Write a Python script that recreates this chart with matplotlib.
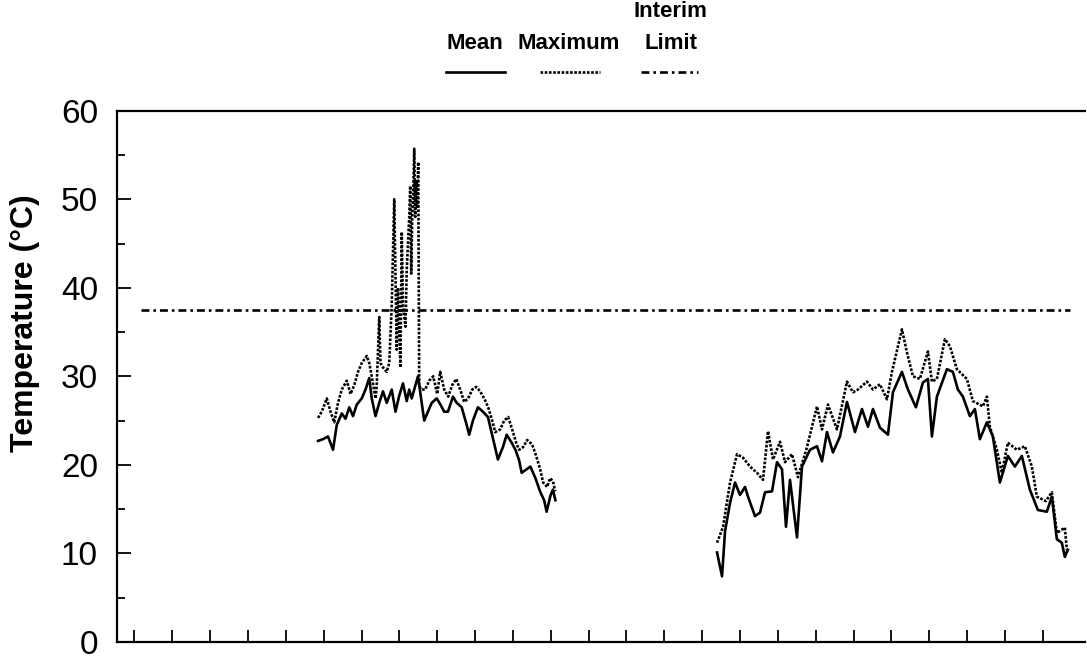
import numpy as np
import matplotlib.pyplot as plt
from matplotlib.lines import Line2D

plt.rcParams['font.family'] = ['Liberation Sans', 'DejaVu Sans']

# days since start of record (ticks mark months)
month_ticks = np.arange(25) * 30.3

# first season
s1_mean_days = [147, 151, 155, 159, 162, 166, 169, 172, 175, 178, 182, 185, 188, 190,
                193, 196, 199, 202, 206, 209, 212, 215, 218, 220, 222, 225, 227,
                230, 232, 235, 238, 242, 245, 248, 251, 255, 258, 262, 266, 268,
                271, 275, 279, 283, 287, 291, 295, 298, 302, 305, 308, 310, 314,
                317, 321, 325, 328, 330, 333, 335, 337]
s1_mean = [22.7, 22.9, 23.2, 21.7, 24.5, 25.8, 25.2, 26.5, 25.5, 26.8, 27.5, 28.5, 29.8, 27.5,
           25.5, 27.0, 28.3, 27.0, 28.5, 26.0, 27.8, 29.2, 27.2, 28.5, 27.5, 29.0, 30.0,
           27.0, 25.0, 26.0, 27.0, 27.5, 26.8, 26.0, 26.0, 27.7, 27.0, 26.5, 24.5, 23.4,
           25.0, 26.5, 26.0, 25.4, 23.0, 20.6, 22.0, 23.4, 22.5, 21.7, 20.5, 19.1, 19.5,
           19.8, 18.5, 16.9, 16.0, 14.7, 16.5, 17.2, 16.0]

s1_max_days = [147, 150, 154, 157, 160, 163, 166, 170, 173, 176, 179, 182, 186, 188, 190,
               193, 194, 196, 197, 199, 202, 204, 206, 208, 210, 211, 213, 214, 215,
               217, 218, 220.0, 220.8, 221.6, 222.4, 223.2, 224.0, 224.8, 225.6, 226.4,
               227.2, 228.0, 229.6, 232.8, 236.0, 239.2, 242.4, 244.8, 248.0, 251.2,
               254.4, 257.6, 260.8, 264.0, 267.2, 270.4, 273.6, 276.8, 280.0, 283.2,
               286.4, 288.8, 292.8, 296.0, 299.2, 302.4, 305.6, 308.0, 311.2, 314.4,
               318.4, 321.6, 324.8, 327.2, 330.4, 332.8, 335.2, 336.8]
s1_max = [25.3, 26.0, 27.5, 26.0, 24.8, 27.0, 28.5, 29.5, 28.0, 29.0, 30.5, 31.5, 32.3, 31.5, 30.0,
          27.5, 29.0, 36.7, 31.5, 31.0, 30.5, 31.5, 38.0, 50.0, 33.0, 40.0, 31.0, 46.3, 38.0,
          35.6, 42.0, 48.0, 51.5, 41.6, 48.0, 50.5, 55.7, 48.0, 52.0, 49.0,
          54.2, 28.9, 28.5, 28.5, 29.5, 30.0, 28.0, 30.5, 28.5, 27.7,
          29.0, 29.7, 28.5, 27.1, 27.5, 28.5, 28.8, 28.3, 27.5, 26.5,
          25.0, 23.7, 24.0, 25.0, 25.4, 24.0, 22.5, 21.7, 22.0, 22.8,
          22.3, 21.0, 19.5, 18.0, 17.5, 18.5, 18.1, 17.0]

# second season
s2_mean_days = [466.4, 470.4, 472.8, 476.8, 480.8, 484.8, 488.8, 491.2, 496.8, 500.8,
                504.8, 510.4, 514.4, 518.4, 521.6, 524.8, 530.4, 534.4, 540.8, 546.4,
                550.4, 554.4, 559.2, 564.8, 570.4, 576.8, 582.4, 587.2, 591.2, 596.8,
                603.2, 607.2, 614.4, 619.2, 625.6, 631.2, 635.2, 638.4, 642.4, 650.4,
                655.2, 659.2, 663.2, 668.8, 672.8, 676.8, 682.4, 687.2, 692.8, 699.2,
                704.8, 710.4, 716.8, 723.2, 730.4, 734.4, 738.4, 742.4, 744.8, 747.2]
s2_mean = [10.1, 7.4, 12.5, 15.7, 18.0, 16.6, 17.5, 16.4, 14.2, 14.6,
           16.9, 17.0, 20.3, 19.5, 13.0, 18.3, 11.8, 19.8, 21.7, 22.1,
           20.4, 23.7, 21.4, 23.2, 27.1, 23.7, 26.3, 24.3, 26.3, 24.2,
           23.4, 28.2, 30.5, 28.5, 26.5, 29.3, 29.7, 23.2, 27.7, 30.8,
           30.5, 28.5, 27.7, 25.5, 26.3, 22.9, 24.8, 23.2, 18.0, 21.0,
           19.8, 21.0, 17.2, 14.9, 14.7, 16.4, 11.6, 11.2, 9.6, 10.4]

s2_max_days = [466.4, 471.2, 476.8, 482.4, 487.2, 492.8, 498.4, 503.2, 507.2, 511.2,
               516.8, 520.8, 526.4, 531.2, 538.4, 546.4, 550.4, 555.2, 562.4, 570.4,
               575.2, 579.2, 586.4, 591.2, 596.8, 602.4, 606.4, 614.4, 618.4, 623.2,
               628.8, 635.2, 638.4, 642.4, 648.8, 652.8, 658.4, 666.4, 671.2, 679.2,
               682.4, 684.8, 690.4, 694.4, 699.2, 706.4, 712.8, 718.4, 722.4, 729.6,
               734.4, 738.4, 744.8, 746.4]
s2_max = [11.2, 13.0, 18.0, 21.2, 20.8, 19.8, 19.1, 18.3, 23.8, 20.6,
          22.6, 20.3, 21.2, 18.6, 22.0, 26.6, 24.0, 26.8, 24.0, 29.4,
          28.2, 28.5, 29.4, 28.5, 29.1, 27.4, 30.5, 35.3, 32.7, 30.0,
          29.7, 32.8, 29.4, 29.7, 34.2, 33.4, 30.8, 29.7, 27.2, 26.6,
          27.7, 24.3, 21.7, 19.1, 22.5, 21.7, 22.1, 19.8, 16.4, 15.9,
          16.9, 12.3, 12.9, 10.4]

interim_limit = 37.5
limit_span = [5, 749]

mean_style = dict(color='black', lw=1.9, ls='-')
max_style = dict(color='black', lw=1.9, ls=(0, (1, 0.6)))
limit_style = dict(color='black', lw=1.9, ls=(0, (3, 1.5, 1, 1.5)))

fig = plt.figure(figsize=(10.87, 6.59), dpi=100)
ax = fig.add_axes([0.108, 0.026, 0.89, 0.806])

ax.plot(s1_max_days, s1_max, **max_style)
ax.plot(s2_max_days, s2_max, **max_style)
ax.plot(s1_mean_days, s1_mean, **mean_style)
ax.plot(s2_mean_days, s2_mean, **mean_style)
ax.plot(limit_span, [interim_limit, interim_limit], **limit_style)

ax.set_xlim(-13.6, 760.8)
ax.set_ylim(0, 60)
ax.set_xticks(month_ticks)
ax.set_xticklabels([])
ax.set_yticks(np.arange(0, 61, 10))
ax.set_yticks(np.arange(5, 60, 10), minor=True)
ax.tick_params(axis='x', direction='in', length=9, width=1.3)
ax.tick_params(axis='y', which='major', direction='in', length=10, width=1.3,
               labelsize=24, pad=14)
ax.tick_params(axis='y', which='minor', direction='in', length=6, width=1.3)
ax.spines['right'].set_visible(False)
for s in ['left', 'bottom', 'top']:
    ax.spines[s].set_linewidth(1.6)
ax.set_ylabel('Temperature (°C)', fontsize=23, fontweight='bold')
ax.yaxis.set_label_coords(-0.08, 0.6)

# legend drawn as header above the plot
fig.text(0.437, 0.934, 'Mean', ha='center', va='center', fontsize=16, fontweight='bold')
fig.text(0.523, 0.934, 'Maximum', ha='center', va='center', fontsize=16, fontweight='bold')
fig.text(0.617, 0.982, 'Interim', ha='center', va='center', fontsize=16, fontweight='bold')
fig.text(0.617, 0.934, 'Limit', ha='center', va='center', fontsize=16, fontweight='bold')
fig.add_artist(Line2D([0.410, 0.465], [0.891, 0.891], transform=fig.transFigure, **mean_style))
fig.add_artist(Line2D([0.497, 0.552], [0.891, 0.891], transform=fig.transFigure, **max_style))
fig.add_artist(Line2D([0.590, 0.642], [0.891, 0.891], transform=fig.transFigure, **limit_style))

fig.savefig('out.png', dpi=100)
